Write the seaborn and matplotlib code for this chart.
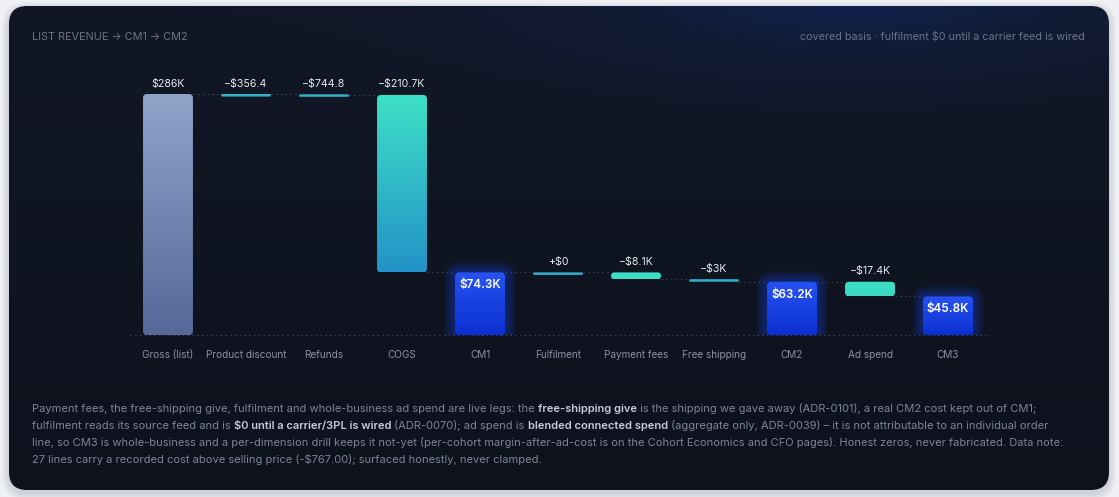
import numpy as np
import pandas as pd
import matplotlib
matplotlib.use('Agg')
import matplotlib.pyplot as plt
from matplotlib.patches import FancyBboxPatch
from matplotlib.colors import to_rgb
from matplotlib.font_manager import FontProperties
import seaborn as sns

W, H = 1119, 497

# data
steps = ['Gross (list)', 'Product discount', 'Refunds', 'COGS', 'CM1', 'Fulfilment',
         'Payment fees', 'Free shipping', 'CM2', 'Ad spend', 'CM3']
amounts = [286000, -356.4, -744.8, -210700, 74300, 0, -8100, -3000, 63200, -17400, 45800]
kinds = ['gross', 'step', 'step', 'step', 'total', 'step', 'step', 'step', 'total', 'step', 'total']

title_left = 'LIST REVENUE → CM1 → CM2'
title_right = 'covered basis · fulfilment $0 until a carrier feed is wired'

# footnote: (text, bold) segments per line
note_lines = [
    [('Payment fees, the free-shipping give, fulfilment and whole-business ad spend are live legs: the ', False),
     ('free-shipping give', True),
     (' is the shipping we gave away (ADR-0101), a real CM2 cost kept out of CM1;', False)],
    [('fulfilment reads its source feed and is ', False),
     ('$0 until a carrier/3PL is wired', True),
     (' (ADR-0070); ad spend is ', False),
     ('blended connected spend', True),
     (' (aggregate only, ADR-0039) – it is not attributable to an individual order', False)],
    [('line, so CM3 is whole-business and a per-dimension drill keeps it not-yet (per-cohort '
      'margin-after-ad-cost is on the Cohort Economics and CFO pages). Honest zeros, never fabricated. Data note:', False)],
    [('27 lines carry a recorded cost above selling price (-$767.00); surfaced honestly, never clamped.', False)],
]

sns.set_theme(style='dark')
plt.rcParams['font.family'] = ['Inter', 'DejaVu Sans']

TXT_DIM = '#6b7385'
TXT_TICK = '#8a91a3'
TXT_VAL = '#e6e9ef'
NOTE = '#7c8496'
NOTE_B = '#c5cad6'
GRID = '#394154'
NOTE_FS = 8


def fmt_money(v, kind):
    a = abs(v)
    if a >= 1000:
        s = f'{a / 1000:.1f}'.rstrip('0').rstrip('.') + 'K'
    elif a == 0:
        s = '0'
    else:
        s = f'{a:.1f}'
    if kind != 'step':
        return '$' + s
    return ('−$' if v < 0 else '+$') + s


# running waterfall positions
bottoms, tops, levels = [], [], []
level = 0
for amt, kind in zip(amounts, kinds):
    if kind in ('gross', 'total'):
        bottoms.append(0)
        tops.append(amt)
        level = amt
    else:
        new = level + amt
        tops.append(max(level, new))
        bottoms.append(min(level, new))
        level = new
    levels.append(level)

fig = plt.figure(figsize=(W / 100, H / 100), dpi=100)
fig.patch.set_facecolor('#eef0f4')

# card background
bg = fig.add_axes([0, 0, 1, 1])
bg.set_xlim(0, W)
bg.set_ylim(H, 0)
bg.axis('off')
for k in range(1, 8):
    bg.add_patch(FancyBboxPatch((9 - k, 6 - k + 3), 1100 + 2 * k, 484 + 2 * k,
                                boxstyle=f'round,pad=0,rounding_size={18 + k}',
                                fc='#1a2030', ec='none', alpha=0.02))
card = FancyBboxPatch((9, 6), 1100, 484, boxstyle='round,pad=0,rounding_size=18',
                      fc='none', ec='none')
bg.add_patch(card)
yy, xx = np.mgrid[0:H, 0:W]
base_top = np.array(to_rgb('#121726'))
base_bot = np.array(to_rgb('#0e121d'))
tv = (yy / H)[..., None]
img = base_top * (1 - tv) + base_bot * tv
g = np.exp(-(((xx - 850) / 300.0) ** 2 + ((yy + 5) / 75.0) ** 2))[..., None]
img = img * (1 - g) + np.array(to_rgb('#10204e')) * g
im = bg.imshow(img, extent=[0, W, H, 0], zorder=0, interpolation='bilinear')
im.set_clip_path(card)
bg.set_xlim(0, W)
bg.set_ylim(H, 0)

# chart axes: baseline at y=335px, 130..990px wide
ax = fig.add_axes([130 / W, (H - 335) / H, 860 / W, 275 / H])
ax.set_facecolor('none')
ymax = 286000 * 275 / 241
xlim = (-0.487, 10.538)
px_x = 860 / (xlim[1] - xlim[0])
px_y = 275 / ymax
bar_w = 0.64
min_h = 2.6 / px_y

df = pd.DataFrame({'step': steps,
                   'height': [max(t - b, min_h) for t, b in zip(tops, bottoms)],
                   'bottom': [b if t - b >= min_h else t - min_h for t, b in zip(tops, bottoms)]})
sns.barplot(data=df, x='step', y='height', order=steps, width=bar_w, color='#5a6d9c',
            saturation=1, errorbar=None, ax=ax)
for p, b in zip(ax.patches, df['bottom']):
    p.set_y(b)
    p.set_visible(False)
ax.set_xlim(*xlim)
ax.set_ylim(0, ymax)


def rounded(x0, y0, w, h, r_px, **kw):
    r_px = min(r_px, h * px_y / 2, w * px_x / 2)
    return FancyBboxPatch((x0, y0), w, h, boxstyle=f'round,pad=0,rounding_size={r_px / px_x}',
                          mutation_aspect=px_x / px_y, **kw)


def gradient(c_top, c_bot, n=64):
    t = np.linspace(0, 1, n)[:, None, None]
    return np.array(to_rgb(c_top)) * (1 - t) + np.array(to_rgb(c_bot)) * t


colors = {'gross': ('#8fa4c9', '#55699a'), 'total': ('#2752f2', '#0b30d2')}
teal, blue = np.array(to_rgb('#3ee0c6')), np.array(to_rgb('#1e84c8'))
for p, kind in zip(ax.patches, kinds):
    x0, y0, w, h = p.get_x(), p.get_y(), p.get_width(), p.get_height()
    if kind == 'total':
        for k in range(1, 12):
            dx, dy = k / px_x, k / px_y
            ax.add_patch(rounded(x0 - dx, y0 - dy, w + 2 * dx, h + 2 * dy, 4 + k,
                                 fc='#1f4fff', ec='none', alpha=0.04, zorder=2))
        ctop, cbot = colors['total']
    elif kind == 'gross':
        ctop, cbot = colors['gross']
    else:
        frac = min(h * px_y / 210.0, 1)
        ctop, cbot = teal, tuple(teal * (1 - frac) + blue * frac)
        if h * px_y < 4:
            ctop, cbot = '#36bcc8', '#2a9fc2'
    clip = rounded(x0, y0, w, h, 4, fc='none', ec='none')
    ax.add_patch(clip)
    bim = ax.imshow(gradient(ctop, cbot), extent=[x0, x0 + w, y0, y0 + h], aspect='auto',
                    interpolation='bilinear', origin='upper', zorder=3)
    bim.set_clip_path(clip)

ax.set_xlim(*xlim)
ax.set_ylim(0, ymax)

# connectors and baseline
dots = (0, (1.2, 2.6))
for i in range(len(steps) - 1):
    ax.hlines(levels[i], i + bar_w / 2, i + 1 - bar_w / 2, colors=GRID, linestyles=dots,
              lw=0.9, zorder=1)
ax.axhline(0, color=GRID, ls=dots, lw=0.9, zorder=1, clip_on=False)

# value labels
for i, (amt, kind) in enumerate(zip(amounts, kinds)):
    lab = fmt_money(amt, kind)
    top = df['bottom'][i] + df['height'][i]
    if kind == 'total':
        ax.annotate(lab, (i, top), xytext=(0, -13), textcoords='offset pixels', ha='center',
                    va='center', fontsize=8.4, color='white', fontweight='semibold', zorder=5)
    else:
        ax.annotate(lab, (i, top), xytext=(0, 10.5), textcoords='offset pixels', ha='center',
                    va='center', fontsize=7.6, color=TXT_VAL, zorder=5)

ax.set_xticks(range(len(steps)))
ax.set_xticklabels(steps, color=TXT_TICK, fontsize=7.2)
ax.tick_params(axis='x', length=0, pad=10.5)
ax.set_yticks([])
ax.set_xlabel('')
ax.set_ylabel('')
ax.grid(False)
for s in ax.spines.values():
    s.set_visible(False)

# header texts
fig.text(32 / W, 1 - 37 / H, title_left, ha='left', va='center', fontsize=7.8, color=TXT_DIM)
fig.text(1085 / W, 1 - 37 / H, title_right, ha='right', va='center', fontsize=7.8, color=TXT_DIM)

# footnote with bold runs
renderer = fig.canvas.get_renderer()


def seg_width(s, bold):
    fp = FontProperties(family=['Inter', 'DejaVu Sans'], size=NOTE_FS,
                        weight='semibold' if bold else 'normal')
    w1 = renderer.get_text_width_height_descent('x' + s + 'x', fp, ismath=False)[0]
    w0 = renderer.get_text_width_height_descent('xx', fp, ismath=False)[0]
    return w1 - w0


for j, line in enumerate(note_lines):
    x = 32
    yb = 408 + 17 * j + 4
    for s, bold in line:
        fig.text(x / W, 1 - yb / H, s, ha='left', va='baseline', fontsize=NOTE_FS,
                 color=NOTE_B if bold else NOTE, fontweight='semibold' if bold else 'normal')
        x += seg_width(s, bold)

fig.savefig('out.png', dpi=100, facecolor=fig.get_facecolor())
